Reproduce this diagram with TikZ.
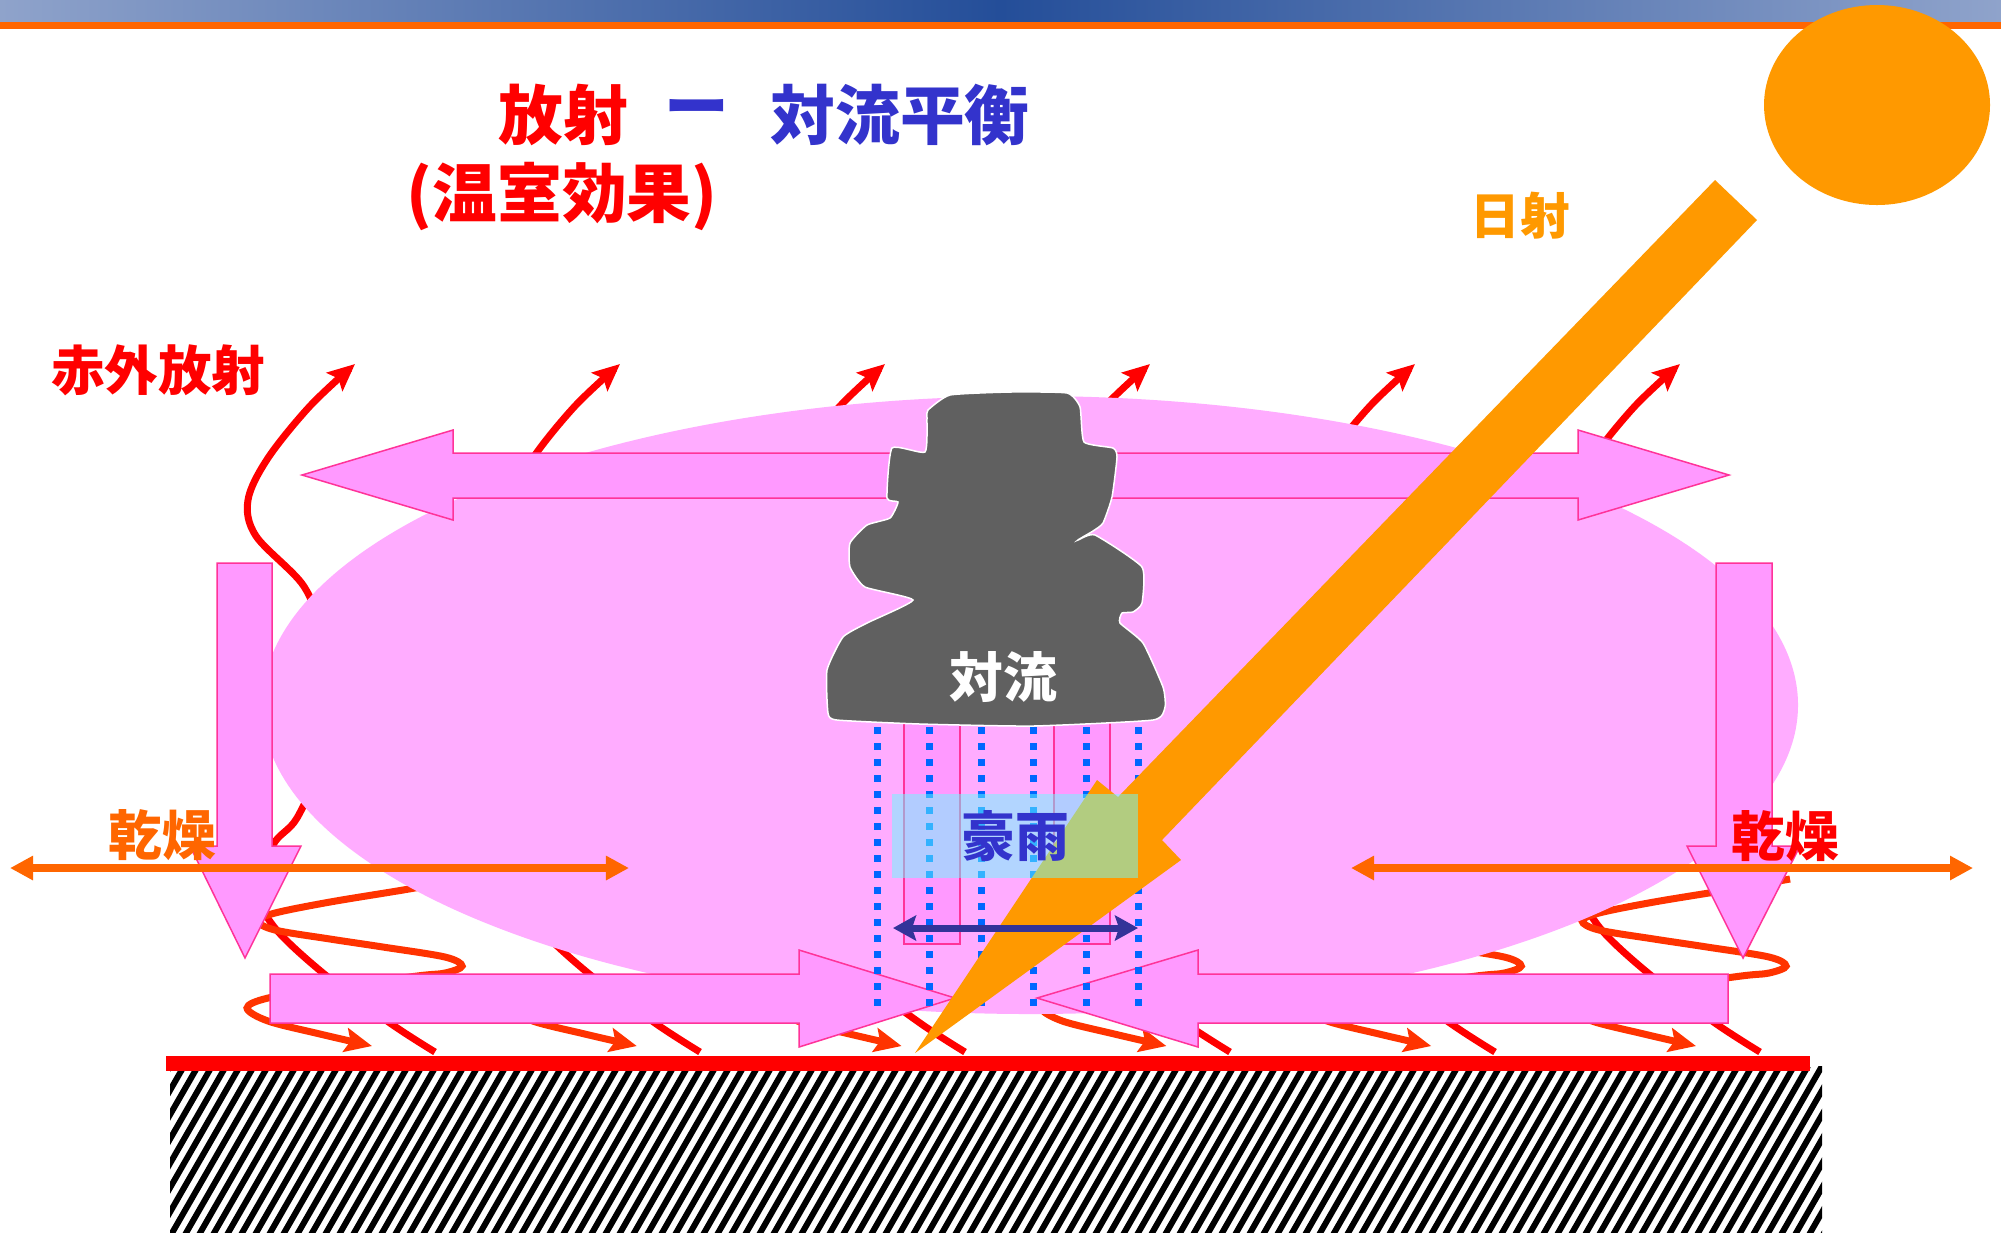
\documentclass[tikz,border=0pt]{standalone}
\usepackage{fontspec}
\newfontfamily\jp{Noto Sans CJK JP}
\usetikzlibrary{arrows.meta}
\definecolor{barlight}{RGB}{143,163,203}
\definecolor{bardark}{RGB}{36,78,153}
\definecolor{barorange}{RGB}{255,102,0}
\definecolor{sunorange}{RGB}{255,153,0}
\definecolor{backred}{RGB}{255,51,0}
\definecolor{airpink}{RGB}{255,172,255}
\definecolor{flowpink}{RGB}{255,153,255}
\definecolor{flowedge}{RGB}{255,51,153}
\definecolor{cloudgray}{RGB}{96,96,96}
\definecolor{rainblue}{RGB}{0,102,255}
\definecolor{raincyan}{RGB}{102,255,255}
\definecolor{titleblue}{RGB}{51,51,204}
\definecolor{spanblue}{RGB}{51,51,153}

\begin{document}
\begin{tikzpicture}[x=0.01cm, y=-0.01cm,
    jtext/.style={font=\jp\bfseries\fontsize{#1}{#1}\selectfont, inner sep=0pt},
    flow/.style={fill=flowpink, draw=flowedge, line width=0.015cm},
    ir/.style={red, line width=0.07cm,
      -{Stealth[length=0.27cm, width=0.24cm, inset=0.05cm]}},
    back/.style={backred, line width=0.07cm,
      -{Stealth[length=0.27cm, width=0.24cm, inset=0.05cm]}},
    dry/.style={barorange, line width=0.08cm,
      {Triangle[length=0.23cm, width=0.23cm]}-{Triangle[length=0.23cm, width=0.23cm]}},
    rain/.style={rainblue, line width=0.07cm, dash pattern=on 0.07cm off 0.09cm}]
  \useasboundingbox (0,0) rectangle (2001,1232);
  \fill[white] (0,0) rectangle (2001,1232);

  % header bar
  \shade[left color=barlight, right color=barlight, middle color=bardark]
    (0,0) rectangle (2001,22);
  \fill[barorange] (0,22) rectangle (2001,29);

  % sun
  \fill[sunorange] (1877,105) ellipse [x radius=113, y radius=100];

  % infrared from the ground, out through the top
  \foreach \k in {0,...,5}
    \draw[ir, shift={(265*\k,0)}] plot[smooth, tension=0.55] coordinates {
      (435,1052) (390,1023) (323,973) (275,928) (259,893) (273,845) (297,818)
      (322,760) (330,700) (320,630) (303,585) (256,536) (248,500) (268,458)
      (310,406) (355,364)};

  % back radiation spirals down to the ground
  \foreach \k in {0,...,5}
    \draw[back, shift={(264.8*\k,0)}] plot[smooth, tension=0.55] coordinates {
      (466,879) (403,890) (330,902) (275,913) (258,921) (275,930) (330,939)
      (383,947) (445,957) (462,966) (445,973) (417,976) (330,988) (268,998)
      (247,1008) (268,1021) (320,1034) (372,1046)};

  % moist air
  \fill[airpink] (1030,705) ellipse [x radius=768, y radius=309];

  % updrafts under the cloud
  \draw[flow] (904,700) rectangle (960,944);
  \draw[flow] (1054,700) rectangle (1110,944);

  % outflow aloft
  \draw[flow] (302,475) -- (453,430) -- (453,453) -- (1578,453) -- (1578,430)
    -- (1729,475) -- (1578,520) -- (1578,498) -- (453,498) -- (453,520) -- cycle;
  % subsidence
  \draw[flow] (217,563) -- (272,563) -- (272,846) -- (301,846) -- (245,958)
    -- (190,846) -- (217,846) -- cycle;
  \draw[flow] (1716,563) -- (1772,563) -- (1772,846) -- (1800,846) -- (1743,958)
    -- (1687,846) -- (1716,846) -- cycle;
  % inflow near the ground
  \draw[flow] (270,974) -- (799,974) -- (799,950) -- (955,998) -- (799,1047)
    -- (799,1023) -- (270,1023) -- cycle;
  \draw[flow] (1728,974) -- (1198,974) -- (1198,950) -- (1037,998) -- (1198,1047)
    -- (1198,1023) -- (1728,1023) -- cycle;

  % cloud
  \draw[fill=cloudgray, draw=white, line width=0.015cm]
    plot[smooth cycle, tension=0.3] coordinates {
      (928,410) (950,395) (1010,392) (1067,393) (1080,407) (1084,442) (1113,448)
      (1117,457) (1112,497) (1103,523) (1093,531) (1078,540) (1095,535)
      (1142,567) (1142,603) (1133,612) (1122,613) (1120,623) (1143,643)
      (1163,687) (1165,707) (1153,720) (1033,726) (920,724) (837,720) (828,713)
      (827,670) (843,637) (867,623) (913,600) (865,587) (850,567) (850,543)
      (867,525) (890,518) (898,502) (887,498) (892,448) (925,452) (927,418)};

  % rain
  \foreach \x in {877,929,981,1033,1086,1138}
    \draw[rain] (\x,727) -- (\x,1015);

  % solar beam
  \fill[sunorange] (1715,180) -- (1757,220) -- (1162,840) -- (1181,860)
    -- (915,1053) -- (1097,780) -- (1118,797) -- cycle;

  % heavy rain box and its width
  \fill[raincyan, fill opacity=0.5] (892,794) rectangle (1138,878);
  \draw[spanblue, line width=0.07cm,
    {Stealth[length=0.23cm, width=0.25cm, inset=0.04cm]}-{Stealth[length=0.23cm, width=0.25cm, inset=0.04cm]}]
    (893,928) -- (1138,928);

  % dry zones
  \draw[dry] (10,868) -- (629,868);
  \draw[dry] (1351,868) -- (1973,868);

  % ground
  \begin{scope}
    \clip (170,1066) rectangle (1822,1232);
    \foreach \i in {0,...,127}
      \draw[line width=0.06cm] (70+14*\i,1240) -- ++(100,-174);
  \end{scope}
  \fill[red] (166,1056) rectangle (1810,1071);

  % labels
  \node[jtext=18.4, text=red] (title rad) at (563,115) {放射};
  \node[jtext=18.4, text=titleblue] (title dash) at (697,115) {ー};
  \node[jtext=18.4, text=titleblue] (title conv) at (900,115) {対流平衡};
  \node[jtext=18.4, text=red] (greenhouse) at (562,196) {(温室効果)};
  \node[jtext=15.2, text=red] (ir label) at (158,370) {赤外放射};
  \node[jtext=14.1, text=sunorange] (sun label) at (1520,216) {日射};
  \node[jtext=15.3, text=barorange] (dry left) at (162,835) {乾燥};
  \node[jtext=15.3, text=red] (dry right) at (1785,836) {乾燥};
  \node[jtext=15.3, text=titleblue] (heavy rain) at (1015,836) {豪雨};
  \node[jtext=15.3, text=white] (conv label) at (1003,677) {対流};
\end{tikzpicture}
\end{document}
